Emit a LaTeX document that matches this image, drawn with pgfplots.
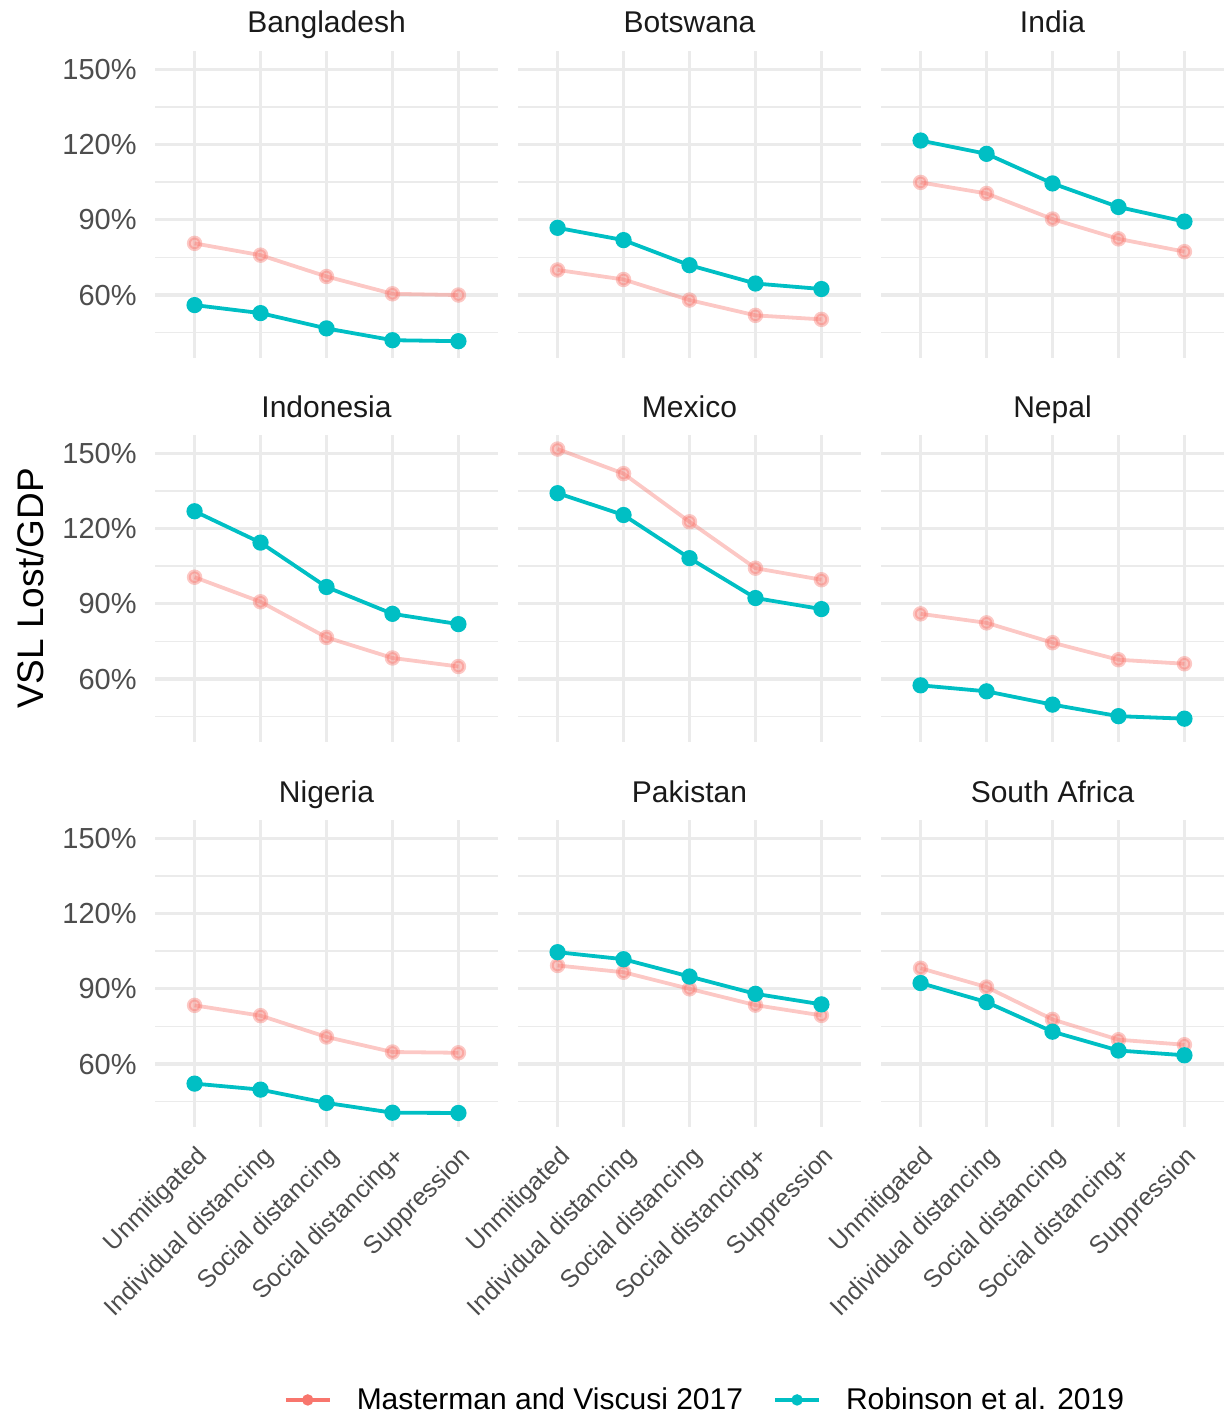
\documentclass[border=0pt]{standalone}
\usepackage{fontspec}
\setmainfont{Liberation Sans}
\usepackage{pgfplots}
\pgfplotsset{compat=1.18}
\definecolor{mcol}{HTML}{F8766D}
\definecolor{rcol}{HTML}{00BFC4}
\definecolor{gridc}{HTML}{EBEBEB}
\definecolor{tickc}{HTML}{4D4D4D}
\definecolor{titlec}{HTML}{1A1A1A}
\pgfplotsset{
  panel/.style={
    scale only axis, width=171.5pt, height=153.5pt,
    xmin=-0.6, xmax=4.6, ymin=34.9, ymax=157.3,
    xtick={0,1,2,3,4}, ytick={60,90,120,150}, minor ytick={45,75,105,135},
    xmajorgrids, ymajorgrids, yminorgrids,
    major grid style={draw=gridc, line width=1.6pt},
    minor grid style={draw=gridc, line width=0.8pt},
    axis line style={draw=none}, major tick length=0pt, minor tick length=0pt,
    xticklabels={}, yticklabels={},
    title style={at={(0.5,1)}, anchor=base, yshift=3pt, font=\fontsize{15}{18}\selectfont, text=titlec},
    anchor=north west,
  },
  leftcol/.style={
    yticklabels={60\%,90\%,120\%,150\%},
    yticklabel style={font=\fontsize{14.5}{17}\selectfont, text=tickc, anchor=east, inner sep=0pt, xshift=-9pt},
  },
  bottomrow/.style={
    xticklabels={Unmitigated,Individual distancing,Social distancing,Social distancing+,Suppression},
    xticklabel style={font=\fontsize{12.5}{15}\selectfont, text=tickc, xshift=0.3pt, yshift=-8.75pt, rotate=45, anchor=north east, inner sep=0pt},
  },
  mplot/.style={color=mcol, opacity=0.4, line width=1.9pt, mark=*, mark size=2.9pt, mark options={solid}},
  rplot/.style={color=rcol, line width=1.9pt, mark=*, mark size=3.1pt, mark options={solid}},
}
\begin{document}
\begin{tikzpicture}
\path[use as bounding box] (0,0) rectangle (611.5pt,-709pt);
% Row 1
\begin{axis}[panel, leftcol, at={(77.5pt,-25.5pt)}, title={Bangladesh}]
\addplot[mplot] coordinates {(0,80.6) (1,75.9) (2,67.4) (3,60.5) (4,60.0)};
\addplot[rplot] coordinates {(0,56.0) (1,52.8) (2,46.7) (3,42.0) (4,41.6)};
\end{axis}
\begin{axis}[panel, at={(259pt,-25.5pt)}, title={Botswana}]
\addplot[mplot] coordinates {(0,70.0) (1,66.2) (2,58.0) (3,51.9) (4,50.3)};
\addplot[rplot] coordinates {(0,86.8) (1,81.9) (2,71.9) (3,64.6) (4,62.4)};
\end{axis}
\begin{axis}[panel, at={(440.5pt,-25.5pt)}, title={India}]
\addplot[mplot] coordinates {(0,104.9) (1,100.5) (2,90.3) (3,82.4) (4,77.3)};
\addplot[rplot] coordinates {(0,121.6) (1,116.3) (2,104.5) (3,95.1) (4,89.3)};
\end{axis}
% Row 2
\begin{axis}[panel, leftcol, at={(77.5pt,-217.5pt)}, title={Indonesia},
  ylabel={VSL Lost/GDP},
  ylabel style={at={(axis description cs:-0.364,0.5)}, anchor=center, font=\fontsize{18.5}{22}\selectfont, text=black}]
\addplot[mplot] coordinates {(0,100.6) (1,90.8) (2,76.6) (3,68.4) (4,65.0)};
\addplot[rplot] coordinates {(0,126.9) (1,114.4) (2,96.7) (3,86.0) (4,81.9)};
\end{axis}
\begin{axis}[panel, at={(259pt,-217.5pt)}, title={Mexico}]
\addplot[mplot] coordinates {(0,151.7) (1,141.9) (2,122.7) (3,104.2) (4,99.6)};
\addplot[rplot] coordinates {(0,134.1) (1,125.4) (2,108.2) (3,92.3) (4,87.9)};
\end{axis}
\begin{axis}[panel, at={(440.5pt,-217.5pt)}, title={Nepal}]
\addplot[mplot] coordinates {(0,86.0) (1,82.4) (2,74.5) (3,67.7) (4,66.1)};
\addplot[rplot] coordinates {(0,57.5) (1,55.1) (2,49.8) (3,45.2) (4,44.2)};
\end{axis}
% Row 3
\begin{axis}[panel, leftcol, bottomrow, at={(77.5pt,-410pt)}, title={Nigeria}]
\addplot[mplot] coordinates {(0,83.4) (1,79.3) (2,70.8) (3,64.8) (4,64.5)};
\addplot[rplot] coordinates {(0,52.2) (1,49.8) (2,44.5) (3,40.6) (4,40.5)};
\end{axis}
\begin{axis}[panel, bottomrow, at={(259pt,-410pt)}, title={Pakistan},
  legend columns=2,
  legend style={at={(0.542,-0.889)}, anchor=center, draw=none, fill=none,
    font=\fontsize{15}{18}\selectfont, inner sep=0pt,
    nodes={inner sep=0pt},
    /tikz/every odd column/.append style={column sep=12.5pt},
    /tikz/every even column/.append style={column sep=15pt}},
  legend image code/.code={\draw[mark repeat=2,mark phase=2,#1] plot coordinates {(0pt,0pt) (11pt,0pt) (22pt,0pt)};}]
\addlegendimage{color=mcol, line width=2pt, mark=*, mark size=1.8pt}
\addlegendentry{Masterman and Viscusi 2017}
\addlegendimage{color=rcol, line width=2pt, mark=*, mark size=1.8pt}
\addlegendentry{Robinson et al. 2019}
\addplot[mplot, forget plot] coordinates {(0,99.3) (1,96.6) (2,90.0) (3,83.5) (4,79.4)};
\addplot[rplot, forget plot] coordinates {(0,104.6) (1,101.8) (2,94.9) (3,88.0) (4,83.8)};
\end{axis}
\begin{axis}[panel, bottomrow, at={(440.5pt,-410pt)}, title={South Africa}]
\addplot[mplot] coordinates {(0,98.2) (1,90.7) (2,77.8) (3,69.7) (4,67.7)};
\addplot[rplot] coordinates {(0,92.3) (1,84.7) (2,72.9) (3,65.4) (4,63.5)};
\end{axis}
\end{tikzpicture}
\end{document}
